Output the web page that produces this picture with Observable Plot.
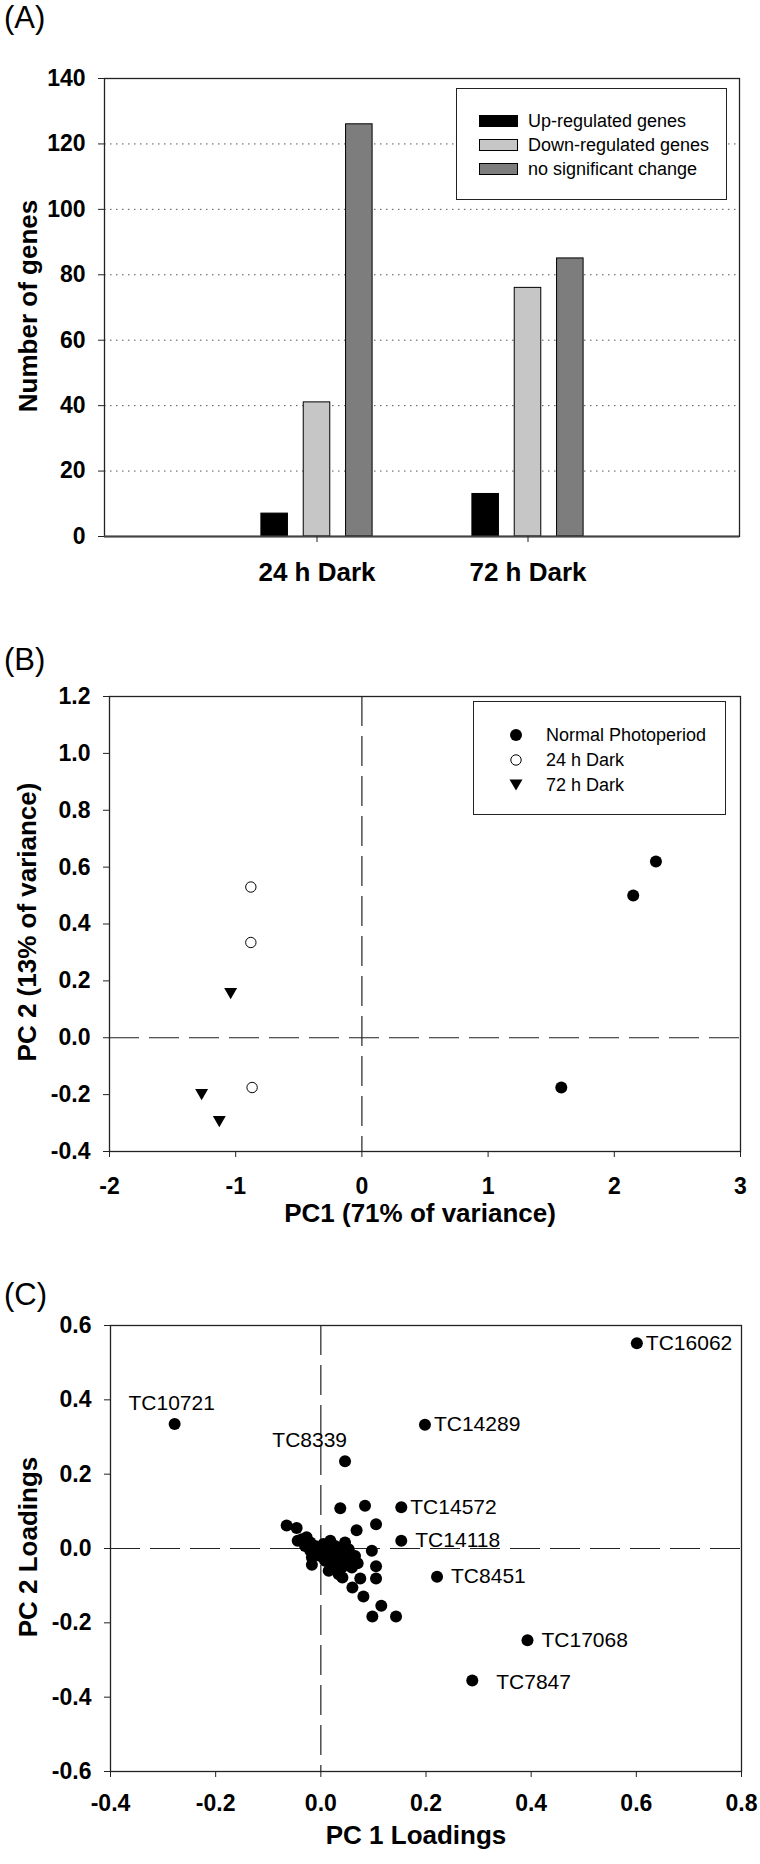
<!DOCTYPE html>
<html>
<head>
<meta charset="utf-8">
<script src="https://cdn.jsdelivr.net/npm/d3@7"></script>
<script src="https://cdn.jsdelivr.net/npm/@observablehq/plot@0.6"></script>
<style>
  html, body { margin: 0; padding: 0; background: #fff; }
  #root { position: relative; width: 760px; height: 1864px; font-family: "Liberation Sans", Arial, sans-serif; color: #000; }
  .panel { position: absolute; left: 0; }
  .plabel { position: absolute; left: 4px; font-size: 31px; line-height: 31px; font-weight: normal; }
  .ylab { position: absolute; font-size: 26px; line-height: 26px; font-weight: bold; white-space: nowrap; transform: translate(-50%, -50%) rotate(-90deg); }
  .legend { position: absolute; border: 1px solid #222; background: #fff; box-sizing: border-box; }
  .legend .row { position: absolute; height: 20px; display: flex; align-items: center; font-size: 18px; white-space: nowrap; }
  .legend .sw { position: absolute; box-sizing: border-box; border: 1px solid #000; }
  .legend svg { position: absolute; overflow: visible; }
</style>
</head>
<body>
<div id="root"></div>
<script>
// ---------------- Panel A data ----------------
const categories = ["24 h Dark", "72 h Dark"];
const seriesNames = ["Up-regulated genes", "Down-regulated genes", "no significant change"];
const upValues = [7, 13];
const downValues = [41, 76];
const noChangeValues = [126, 85];
const yTicksA = [0, 20, 40, 60, 80, 100, 120, 140];
const gridTicksA = [20, 40, 60, 80, 100, 120];

// ---------------- Panel B data ----------------
const groupNamesB = ["Normal Photoperiod", "24 h Dark", "72 h Dark"];
const normalPC1 = [2.33, 2.15, 1.58];
const normalPC2 = [0.62, 0.50, -0.175];
const dark24PC1 = [-0.88, -0.88, -0.87];
const dark24PC2 = [0.53, 0.335, -0.175];
const dark72PC1 = [-1.04, -1.27, -1.13];
const dark72PC2 = [0.155, -0.20, -0.295];
const xTicksB = [-2, -1, 0, 1, 2, 3];
const yTicksB = [-0.4, -0.2, 0, 0.2, 0.4, 0.6, 0.8, 1.0, 1.2];

// ---------------- Panel C data ----------------
const labeledGenes = ["TC16062", "TC10721", "TC14289", "TC8339", "TC14572", "TC14118", "TC8451", "TC17068", "TC7847"];
const labeledPC1 = [0.601, -0.278, 0.198, 0.046, 0.153, 0.153, 0.221, 0.393, 0.288];
const labeledPC2 = [0.552, 0.335, 0.333, 0.235, 0.111, 0.021, -0.076, -0.247, -0.355];
const otherPC1 = [0.037, 0.084, 0.105, 0.068, -0.046, -0.044, 0.097, 0.105, 0.105, 0.075, 0.060, 0.081, 0.115, 0.098, 0.143, -0.017, -0.065,
  -0.036, -0.027, -0.030, -0.020, -0.020, -0.011, -0.011, -0.001, -0.001, 0.005, 0.008, 0.008, 0.018, 0.018, 0.018, 0.021,
  0.027, 0.027, 0.027, 0.030, 0.037, 0.037, 0.040, 0.041, 0.046, 0.049, 0.049, 0.053, 0.056, 0.059, 0.065, 0.070, -0.017, 0.015, 0.034];
const otherPC2 = [0.108, 0.115, 0.065, 0.049, 0.055, 0.021, -0.006, -0.048, -0.081, -0.081, -0.105, -0.129, -0.154, -0.183, -0.183, -0.044, 0.062,
  0.025, 0.030, 0.007, 0.016, -0.006, 0.007, -0.015, 0.003, -0.020, 0.012, -0.011, -0.033, 0.021, -0.002, -0.024, -0.047,
  0.007, -0.015, -0.038, -0.060, -0.006, -0.029, -0.051, -0.078, 0.016, -0.015, -0.038, -0.002, -0.029, -0.051, -0.020, -0.040, -0.024, -0.060, -0.069];
const ticksC_x = [-0.4, -0.2, 0, 0.2, 0.4, 0.6, 0.8];
const ticksC_y = [-0.6, -0.4, -0.2, 0, 0.2, 0.4, 0.6];

// ---------------- shared styles ----------------
const FONT = "'Liberation Sans', Arial, sans-serif";
const rootStyle = {fontFamily: FONT, fontSize: "23px", fontWeight: "bold", color: "#000", background: "transparent", overflow: "visible"};
const root = document.getElementById("root");

function place(el, top) {
  const d = document.createElement("div");
  d.className = "panel";
  d.style.top = top + "px";
  d.appendChild(el);
  root.appendChild(d);
}
function panelLabel(txt, top) {
  const d = document.createElement("div");
  d.className = "plabel";
  d.style.top = top + "px";
  d.textContent = txt;
  root.appendChild(d);
}
function yLabel(txt, cx, cy) {
  const d = document.createElement("div");
  d.className = "ylab";
  d.style.left = cx + "px";
  d.style.top = cy + "px";
  d.textContent = txt;
  root.appendChild(d);
}

// ---------------- Panel A ----------------
const barFills = ["#000000", "#c6c6c6", "#7d7d7d"];
const seriesValues = [upValues, downValues, noChangeValues];
const slot = 42.33, gap = 7.9; // sub-bar slot within the category band (pixels)
const barMarks = seriesValues.map((vals, s) =>
  Plot.barY(categories, {
    x: d => d,
    y: (d, i) => vals[i],
    fill: barFills[s],
    stroke: "#000",
    strokeWidth: 1,
    insetLeft: s * slot + gap,
    insetRight: (2 - s) * slot + gap
  })
);

const plotA = Plot.plot({
  width: 760, height: 620,
  marginLeft: 104, marginRight: 21, marginTop: 78, marginBottom: 84,
  style: rootStyle,
  x: {domain: categories, paddingInner: 0.4, paddingOuter: 0.7, label: null},
  y: {domain: [0, 140], label: null},
  marks: [
    Plot.gridY(gridTicksA, {stroke: "#555", strokeOpacity: 1, strokeDasharray: "1.5,4.5", strokeWidth: 1}),
    ...barMarks,
    Plot.frame({stroke: "#222", strokeWidth: 1.3}),
    Plot.ruleY([0], {stroke: "#444", strokeWidth: 2}),
    Plot.axisY(yTicksA, {tickSize: 6, tickPadding: 13, label: null, stroke: "#222"}),
    Plot.axisX({tickSize: 6, tickPadding: 20, fontSize: 26, label: null, stroke: "#222"})
  ]
});
place(plotA, 0);
panelLabel("(A)", 2);
yLabel("Number of genes", 28, 306);

// legend A
(function () {
  const lg = document.createElement("div");
  lg.className = "legend";
  Object.assign(lg.style, {left: "456px", top: "88px", width: "271px", height: "112px"});
  seriesNames.forEach((name, i) => {
    const sw = document.createElement("div");
    sw.className = "sw";
    Object.assign(sw.style, {left: "22px", top: (26 + i * 24.2) + "px", width: "39px", height: "12px", background: barFills[i]});
    lg.appendChild(sw);
    const row = document.createElement("div");
    row.className = "row";
    Object.assign(row.style, {left: "71px", top: (22 + i * 24.2) + "px"});
    row.textContent = name;
    lg.appendChild(row);
  });
  root.appendChild(lg);
})();

// ---------------- Panel B ----------------
const triangleDown = {
  draw(context, size) {
    const r = Math.sqrt(size / Math.PI);
    const w = r * 1.08, h = r * 1.85;
    context.moveTo(-w, -h / 2);
    context.lineTo(w, -h / 2);
    context.lineTo(0, h / 2);
    context.closePath();
  }
};
const dash = "30,10";
const plotB = Plot.plot({
  width: 760, height: 620,
  marginLeft: 109, marginRight: 20, marginTop: 76, marginBottom: 89,
  style: rootStyle,
  x: {domain: [-2, 3], label: null},
  y: {domain: [-0.4, 1.2], label: null},
  marks: [
    Plot.ruleX([0], {stroke: "#222", strokeDasharray: dash, strokeWidth: 1.2}),
    Plot.ruleY([0], {stroke: "#222", strokeDasharray: dash, strokeWidth: 1.2}),
    Plot.dot(normalPC1, {x: d => d, y: (d, i) => normalPC2[i], r: 6, fill: "#000", stroke: "none"}),
    Plot.dot(dark24PC1, {x: d => d, y: (d, i) => dark24PC2[i], r: 5.2, fill: "#fff", stroke: "#000", strokeWidth: 1}),
    Plot.dot(dark72PC1, {x: d => d, y: (d, i) => dark72PC2[i], r: 6, fill: "#000", stroke: "none", symbol: triangleDown}),
    Plot.frame({stroke: "#222", strokeWidth: 1.3}),
    Plot.axisX(xTicksB, {tickSize: 6, tickPadding: 20, tickFormat: d => String(d), label: null, stroke: "#222"}),
    Plot.axisY(yTicksB, {tickSize: 6, tickPadding: 13, tickFormat: d => d.toFixed(1), label: null, stroke: "#222"}),
    Plot.text(["PC1 (71% of variance)"], {text: d => d, frameAnchor: "bottom", dy: 70, dx: -5, fontSize: 26})
  ]
});
place(plotB, 620);
panelLabel("(B)", 644);
yLabel("PC 2 (13% of variance)", 27, 922);

// legend B
(function () {
  const lg = document.createElement("div");
  lg.className = "legend";
  Object.assign(lg.style, {left: "473px", top: "701px", width: "253px", height: "114px"});
  const symbols = [
    '<circle cx="0" cy="0" r="6" fill="#000"/>',
    '<circle cx="0" cy="0" r="5.2" fill="#fff" stroke="#000" stroke-width="1"/>',
    '<path d="M-6.5,-5.5L6.5,-5.5L0,5.5Z" fill="#000"/>'
  ];
  groupNamesB.forEach((name, i) => {
    const svg = document.createElementNS("http://www.w3.org/2000/svg", "svg");
    svg.setAttribute("width", "20"); svg.setAttribute("height", "20");
    svg.setAttribute("viewBox", "-10 -10 20 20");
    Object.assign(svg.style, {left: "32px", top: (23 + i * 25) + "px"});
    svg.innerHTML = symbols[i];
    lg.appendChild(svg);
    const row = document.createElement("div");
    row.className = "row";
    Object.assign(row.style, {left: "72px", top: (23 + i * 25) + "px"});
    row.textContent = name;
    lg.appendChild(row);
  });
  root.appendChild(lg);
})();

// ---------------- Panel C ----------------
const labelRightNear = ["TC16062", "TC14289", "TC14572"];
const labelRightMid = ["TC14118", "TC8451", "TC17068"];
const labelRightFar = ["TC7847"];
const labelAboveCenter = ["TC10721"];
const labelAboveLeft = ["TC8339"];
const idx = names => names.map(n => labeledGenes.indexOf(n));
const labelText = (names, opts) => Plot.text(idx(names), {
  x: i => labeledPC1[i], y: i => labeledPC2[i], text: i => labeledGenes[i],
  fontSize: 21, fontWeight: "normal", ...opts
});

const plotC = Plot.plot({
  width: 760, height: 624,
  marginLeft: 110, marginRight: 19, marginTop: 85, marginBottom: 93,
  style: rootStyle,
  x: {domain: [-0.4, 0.8], label: null},
  y: {domain: [-0.6, 0.6], label: null},
  marks: [
    Plot.ruleX([0], {stroke: "#222", strokeDasharray: dash, strokeWidth: 1.2}),
    Plot.ruleY([0], {stroke: "#222", strokeDasharray: dash, strokeWidth: 1.2}),
    Plot.dot(otherPC1, {x: d => d, y: (d, i) => otherPC2[i], r: 6, fill: "#000", stroke: "none"}),
    Plot.dot(labeledPC1, {x: d => d, y: (d, i) => labeledPC2[i], r: 6, fill: "#000", stroke: "none"}),
    labelText(labelRightNear, {textAnchor: "start", dx: 9}),
    labelText(labelRightMid, {textAnchor: "start", dx: 14}),
    labelText(labelRightFar, {textAnchor: "start", dx: 24, dy: 2}),
    labelText(labelAboveCenter, {textAnchor: "middle", dx: -3, dy: -21}),
    labelText(labelAboveLeft, {textAnchor: "end", dx: 2, dy: -21}),
    Plot.frame({stroke: "#222", strokeWidth: 1.3}),
    Plot.axisX(ticksC_x, {tickSize: 6, tickPadding: 17, tickFormat: d => d.toFixed(1), label: null, stroke: "#222"}),
    Plot.axisY(ticksC_y, {tickSize: 6, tickPadding: 13, tickFormat: d => d.toFixed(1), label: null, stroke: "#222"}),
    Plot.text(["PC 1 Loadings"], {text: d => d, frameAnchor: "bottom", dy: 72, dx: -10, fontSize: 26})
  ]
});
place(plotC, 1240);
panelLabel("(C)", 1279);
yLabel("PC 2 Loadings", 28, 1547);
</script>
</body>
</html>
